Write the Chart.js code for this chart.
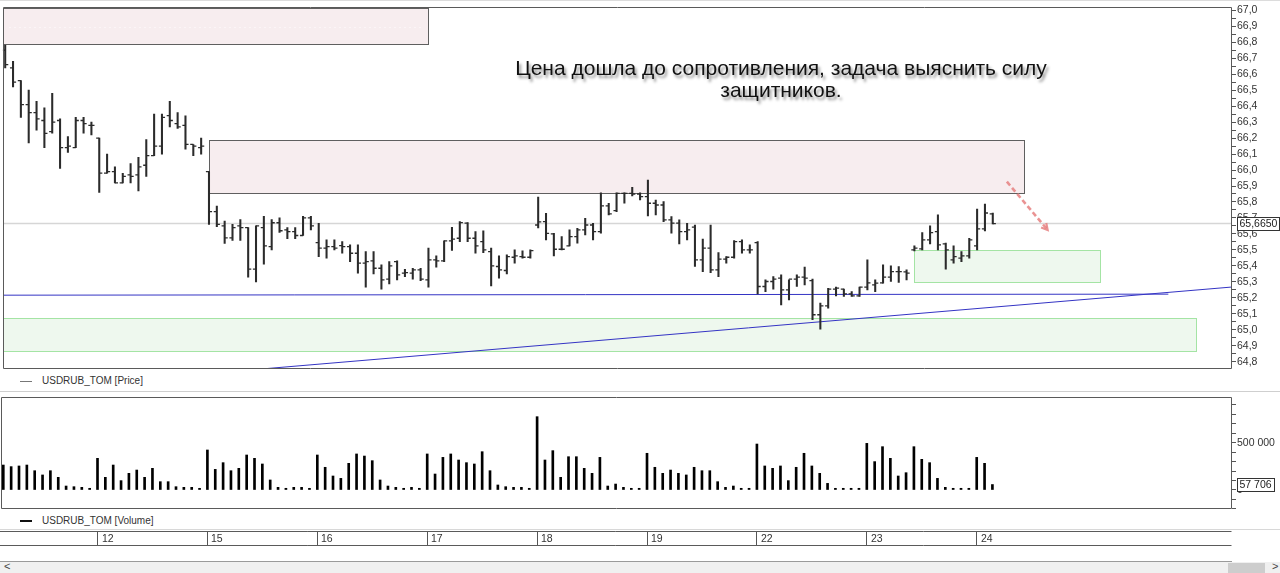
<!DOCTYPE html>
<html>
<head>
<meta charset="utf-8">
<script src="https://cdn.jsdelivr.net/npm/chart.js@4.4.0/dist/chart.umd.min.js"></script>
<style>
  html, body { margin: 0; padding: 0; background: #fff; width: 1280px; height: 573px; overflow: hidden;
    font-family: "Liberation Sans", Arial, sans-serif; }
  canvas { position: absolute; left: 0; }
  .hl { position: absolute; left: 0; height: 1px; }
  .legend { position: absolute; left: 42px; font-size: 10px; line-height: 12px; color: #333; white-space: nowrap; }
  .legend-mark { position: absolute; left: 20px; width: 12px; }
  .note { position: absolute; left: 431px; width: 700px; top: 57px; text-align: center;
    font-size: 21px; line-height: 22px; color: #111; text-shadow: 2px 3px 3px rgba(0,0,0,0.45); }
  .scroll { position: absolute; left: 0; top: 562px; width: 1280px; height: 11px; background: #f0f0f0; }
  .thumb { position: absolute; left: 1228px; top: 1px; width: 37px; height: 10px; background: #cdcdcd; }
  .arr { position: absolute; top: -2px; font-size: 11px; color: #444; }
</style>
</head>
<body>
<div class="hl" style="top:0;width:1280px;background:#dcdcdc"></div>
<div class="legend-mark" style="top:381px;height:1px;background:#777"></div>
<div class="legend" style="top:375px">USDRUB_TOM [Price]</div>
<div class="hl" style="top:391px;width:1280px;background:#cfcfcf"></div>
<div class="legend-mark" style="top:520px;height:2px;background:#111"></div>
<div class="legend" style="top:515px">USDRUB_TOM [Volume]</div>
<div class="hl" style="top:529px;width:1280px;background:#d8d8d8"></div>
<div class="hl" style="top:561px;width:1232px;background:#9a9a9a"></div>
<div class="scroll"><span class="arr" style="left:4px">&lt;</span><div class="thumb"></div><span class="arr" style="left:1272px">&gt;</span></div>
<canvas id="priceChart" width="1280" height="376" style="top:0"></canvas>
<canvas id="volumeChart" width="1280" height="128" style="top:389px"></canvas>
<canvas id="dateChart" width="1280" height="19" style="top:529px"></canvas>
<div class="note">Цена дошла до сопротивления, задача выяснить силу<br>защитников.</div>

<script>
// ---- hourly bars of USDRUB_TOM (index 0 = first visible hour) ----
const opens = [66.75,66.64,66.56,66.41,66.36,66.31,66.24,66.31,66.14,66.14,66.31,66.28,
  66.20,65.98,65.99,65.92,65.97,65.97,66.03,66.09,66.15,66.34,66.29,66.28,66.16,66.14,
  65.99,65.74,65.65,65.575,65.65,65.64,65.38,65.64,65.52,65.67,65.625,65.615,65.59,65.70,
  65.546,65.511,65.521,65.527,65.521,65.479,65.417,65.431,65.385,65.317,65.427,65.354,65.354,65.375,
  65.3125,65.4375,65.431,65.556,65.573,65.667,65.573,65.552,65.489,65.396,65.371,65.454,65.458,65.454,
  65.656,65.677,65.60,65.504,65.525,65.583,65.625,65.656,65.614,65.775,65.746,65.854,65.854,65.85,
  65.833,65.792,65.781,65.6875,65.667,65.614,65.642,65.4375,65.511,65.375,65.442,65.454,65.552,65.50,
  65.546,65.271,65.302,65.323,65.25,65.317,65.329,65.308,65.094,65.15,65.254,65.254,65.225,65.2125,
  65.267,65.281,65.294,65.329,65.364,65.3625,65.50,65.506,65.5625,65.614,65.5375,65.4375,65.448,65.4625,
  65.525,65.631,65.725];
const highs = [66.78,66.68,66.56,66.50,66.43,66.39,66.48,66.32,66.21,66.33,66.33,66.30,
  66.20,66.10,66.02,65.98,66.04,66.08,66.19,66.35,66.35,66.43,66.36,66.34,66.16,66.20,
  65.99,65.775,65.68,65.66,65.69,65.64,65.65,65.71,65.69,65.70,65.64,65.64,65.71,65.71,
  65.667,65.5625,65.5625,65.552,65.531,65.531,65.489,65.489,65.406,65.427,65.431,65.379,65.385,65.385,
  65.511,65.4625,65.556,65.642,65.677,65.671,65.614,65.62,65.511,65.4625,65.469,65.50,65.494,65.50,
  65.831,65.729,65.604,65.583,65.625,65.635,65.698,65.667,65.858,65.792,65.858,65.858,65.892,65.858,
  65.9375,65.8125,65.802,65.708,65.6875,65.667,65.656,65.567,65.656,65.483,65.458,65.558,65.5625,65.531,
  65.552,65.3125,65.333,65.344,65.3125,65.344,65.392,65.317,65.167,65.26,65.267,65.254,65.239,65.267,
  65.4375,65.3125,65.406,65.40,65.396,65.375,65.525,65.608,65.65,65.719,65.542,65.525,65.489,65.573,
  65.756,65.7875,65.731];
const lows = [66.64,66.52,66.33,66.17,66.25,66.14,66.23,66.01,66.11,66.14,66.23,66.22,
  65.86,65.98,65.92,65.92,65.92,65.87,65.96,66.09,66.10,66.27,66.26,66.13,66.09,66.10,
  65.66,65.645,65.54,65.56,65.56,65.33,65.30,65.41,65.50,65.61,65.57,65.57,65.59,65.625,
  65.458,65.448,65.50,65.479,65.427,65.354,65.267,65.35,65.254,65.2875,65.3125,65.333,65.317,65.308,
  65.267,65.392,65.427,65.496,65.552,65.552,65.479,65.483,65.275,65.323,65.35,65.417,65.448,65.448,
  65.6375,65.5625,65.4625,65.50,65.525,65.542,65.594,65.5625,65.604,65.719,65.739,65.792,65.8375,65.8125,
  65.7125,65.719,65.677,65.604,65.5375,65.5625,65.396,65.364,65.358,65.333,65.417,65.448,65.479,65.479,
  65.225,65.239,65.254,65.156,65.1875,65.271,65.281,65.0625,65.004,65.135,65.2125,65.208,65.208,65.208,
  65.25,65.239,65.292,65.302,65.296,65.3125,65.494,65.50,65.5375,65.50,65.379,65.417,65.427,65.448,
  65.50,65.619,65.6625];
const closes = [66.66,66.55,66.41,66.36,66.32,66.23,66.30,66.14,66.15,66.31,66.29,66.28,
  65.98,65.99,65.92,65.96,65.96,66.02,66.09,66.15,66.33,66.31,66.27,66.16,66.15,66.15,
  65.74,65.66,65.575,65.64,65.64,65.38,65.65,65.525,65.67,65.62,65.615,65.59,65.70,65.65,
  65.511,65.521,65.511,65.521,65.479,65.417,65.427,65.385,65.3125,65.40,65.344,65.358,65.375,65.317,
  65.4375,65.431,65.556,65.567,65.671,65.573,65.525,65.50,65.40,65.375,65.458,65.4625,65.454,65.496,
  65.675,65.604,65.504,65.504,65.583,65.625,65.656,65.614,65.775,65.725,65.854,65.854,65.85,65.833,
  65.792,65.781,65.6875,65.667,65.614,65.625,65.4375,65.511,65.375,65.442,65.454,65.552,65.50,65.50,
  65.271,65.302,65.317,65.25,65.317,65.329,65.323,65.094,65.15,65.254,65.261,65.225,65.2125,65.267,
  65.294,65.292,65.329,65.364,65.364,65.354,65.511,65.5625,65.608,65.531,65.50,65.458,65.4625,65.5625,
  65.631,65.731,65.665];
const volumes = [264000,247000,254000,264000,204000,159000,204000,134000,42000,35000,28000,18000,
  335000,134000,264000,99000,176000,211000,134000,229000,88000,88000,35000,28000,28000,18000,
  423000,218000,289000,204000,229000,370000,335000,275000,106000,28000,18000,28000,28000,18000,
  370000,240000,148000,123000,282000,381000,359000,310000,106000,42000,28000,18000,28000,18000,
  381000,169000,345000,381000,317000,289000,275000,405000,204000,53000,35000,28000,28000,18000,
  775000,317000,416000,134000,352000,352000,229000,176000,345000,42000,63000,28000,18000,18000,
  388000,240000,176000,211000,176000,159000,240000,204000,204000,88000,28000,42000,18000,18000,
  486000,254000,229000,254000,99000,240000,388000,254000,176000,70000,18000,18000,18000,18000,
  493000,300000,458000,335000,148000,183000,458000,324000,289000,123000,28000,18000,18000,18000,
  345000,282000,57706];

// ---- session starts on the time strip ----
const dayLabels = ['12', '15', '16', '17', '18', '19', '22', '23', '24'];
const dayStartBar = [12, 26, 40, 54, 68, 82, 96, 110, 124];

// ---- axis ticks ----
const priceTickLabels = ['64,8','64,9','65,0','65,1','65,2','65,3','65,4','65,5','65,6','65,7','65,8',
  '65,9','66,0','66,1','66,2','66,3','66,4','66,5','66,6','66,7','66,8','66,9','67,0'];
const volumeTickStep = 100000;
const volumeLabelValues = [0, 500000];
const volumeLabelTexts = ['0', '500 000'];

// ---- drawn analysis: zones, lines, arrow ----
const X_MIN = -0.293, X_MAX = 156.52;
const resistanceZones = [
  { from: X_MIN, to: 54, low: 66.7875, high: 67.0125, midline: true },
  { from: 26, to: 130, low: 65.855, high: 66.19, midline: false }
];
const supportZones = [
  { from: 116, to: 139.7, low: 65.30, high: 65.50 },
  { from: X_MIN, to: 151.9, low: 64.866, high: 65.072 }
];
const levelLine = [{ x: X_MIN, y: 65.2165 }, { x: 148.4, y: 65.223 }];
const trendLine = [{ x: 33.1, y: 64.756 }, { x: 156.6, y: 65.268 }];
const arrowPath = [{ x: 127.8, y: 65.927 }, { x: 133.0, y: 65.625 }];

Chart.defaults.font.family = '"Liberation Sans", Arial, sans-serif';
Chart.defaults.font.size = 10.5;
Chart.defaults.color = '#333';
Chart.defaults.animation = false;
Chart.defaults.plugins.legend.display = false;
Chart.defaults.plugins.tooltip.enabled = false;

const barIndex = opens.map((_, i) => i);
const TICK_REACH = 0.19;          // open/close tick offset, in bar units
const lastClose = closes[closes.length - 1];
const lastVolume = volumes[volumes.length - 1];
const priceTickValues = priceTickLabels.map(s => parseFloat(s.replace(',', '.')));
const priceAllTicks = [];
priceTickValues.forEach((v, k) => {
  priceAllTicks.push({ value: v, label: priceTickLabels[k] });
  if (k < priceTickValues.length - 1) priceAllTicks.push({ value: (v + priceTickValues[k + 1]) / 2, label: '' });
});
const volumeAllTicks = [];
for (let v = -2 * volumeTickStep; v <= 9 * volumeTickStep; v += volumeTickStep) {
  const k = volumeLabelValues.indexOf(v);
  volumeAllTicks.push({ value: v, label: k >= 0 ? volumeLabelTexts[k] : '' });
}

// panel frame around the plotting area
const framePlugin = {
  id: 'frame',
  afterDraw(chart, args, opts) {
    const { ctx, chartArea: a } = chart;
    ctx.save();
    ctx.strokeStyle = opts.color || '#5a5a5a';
    ctx.lineWidth = 1;
    const l = Math.round(a.left) + 0.5, r = Math.round(a.right) - 0.5;
    const t = Math.round(a.top) + 0.5, b = Math.round(a.bottom) - 0.5;
    ctx.beginPath();
    if (opts.sides === 'tb') {
      ctx.moveTo(0, t); ctx.lineTo(r, t); ctx.moveTo(0, b); ctx.lineTo(r, b);
    } else {
      ctx.rect(l, t, r - l, b - t);
    }
    ctx.stroke();
    ctx.restore();
  }
};

// resistance / support rectangles behind the bars, arrow on top
const zonePlugin = {
  id: 'zones',
  beforeDatasetsDraw(chart) {
    const { ctx, chartArea: a, scales: { x, y } } = chart;
    ctx.save();
    ctx.beginPath();
    ctx.rect(a.left, a.top, a.right - a.left, a.bottom - a.top);
    ctx.clip();
    const box = (z, fill, stroke) => {
      const x0 = Math.round(x.getPixelForValue(z.from)) + 0.5;
      const x1 = Math.round(x.getPixelForValue(z.to)) + 0.5;
      const y0 = Math.round(y.getPixelForValue(z.high)) + 0.5;
      const y1 = Math.round(y.getPixelForValue(z.low)) + 0.5;
      ctx.fillStyle = fill;
      ctx.fillRect(x0, y0, x1 - x0, y1 - y0);
      if (z.midline) {
        ctx.save();
        ctx.strokeStyle = 'rgba(255,255,255,0.95)';
        ctx.setLineDash([1, 4]);
        ctx.beginPath();
        const ym = Math.round((y0 + y1) / 2) + 0.5;
        ctx.moveTo(x0 + 6, ym); ctx.lineTo(x1 - 4, ym);
        ctx.stroke();
        ctx.restore();
      }
      ctx.strokeStyle = stroke;
      ctx.lineWidth = 1;
      ctx.strokeRect(x0, y0, x1 - x0, y1 - y0);
    };
    supportZones.forEach(z => box(z, '#eef8ee', '#a4e4a4'));
    resistanceZones.forEach(z => box(z, '#f7edef', '#5f5f5f'));
    ctx.restore();
  },
  afterDatasetsDraw(chart) {
    const { ctx, scales: { x, y } } = chart;
    const p0 = { x: x.getPixelForValue(arrowPath[0].x), y: y.getPixelForValue(arrowPath[0].y) };
    const p1 = { x: x.getPixelForValue(arrowPath[1].x), y: y.getPixelForValue(arrowPath[1].y) };
    const ang = Math.atan2(p1.y - p0.y, p1.x - p0.x);
    ctx.save();
    ctx.strokeStyle = 'rgba(230,128,128,0.85)';
    ctx.lineWidth = 2.6;
    ctx.setLineDash([5, 3]);
    ctx.beginPath(); ctx.moveTo(p0.x, p0.y); ctx.lineTo(p1.x, p1.y); ctx.stroke();
    ctx.setLineDash([]);
    ctx.lineWidth = 2.2;
    ctx.beginPath();
    ctx.moveTo(p1.x - 7 * Math.cos(ang - 0.5), p1.y - 7 * Math.sin(ang - 0.5));
    ctx.lineTo(p1.x, p1.y);
    ctx.lineTo(p1.x - 7 * Math.cos(ang + 0.5), p1.y - 7 * Math.sin(ang + 0.5));
    ctx.stroke();
    ctx.restore();
  }
};

// boxed last-value tag on the right axis
const lastValuePlugin = {
  id: 'lastValue',
  afterDraw(chart, args, opts) {
    const { ctx, chartArea: a, scales: { y } } = chart;
    const py = Math.round(y.getPixelForValue(opts.value));
    ctx.save();
    ctx.font = '10.5px "Liberation Sans", Arial, sans-serif';
    const w = Math.ceil(ctx.measureText(opts.text).width) + 4;
    const x0 = Math.round(a.right) + 5.5, y0 = py - 6.5;
    ctx.fillStyle = '#fff';
    ctx.fillRect(x0, y0, w, 13);
    ctx.strokeStyle = '#333';
    ctx.lineWidth = 1;
    ctx.strokeRect(x0, y0, w, 13);
    ctx.fillStyle = '#222';
    ctx.textBaseline = 'middle';
    ctx.fillText(opts.text, x0 + 2, py + 0.5);
    ctx.restore();
  }
};

// session labels written just right of each session separator
const dayLabelPlugin = {
  id: 'dayLabels',
  afterDraw(chart) {
    const { ctx, chartArea: a, scales: { x } } = chart;
    ctx.save();
    ctx.font = '10.5px "Liberation Sans", Arial, sans-serif';
    ctx.fillStyle = '#333';
    ctx.textBaseline = 'middle';
    dayStartBar.forEach((b, k) => {
      ctx.fillText(dayLabels[k], Math.round(x.getPixelForValue(b)) + 4, (a.top + a.bottom) / 2 + 0.5);
    });
    ctx.restore();
  }
};

const makeX = () => ({ type: 'linear', min: X_MIN, max: X_MAX, display: false, offset: false, grid: { offset: false } });

new Chart(document.getElementById('priceChart'), {
  type: 'bar',
  data: {
    datasets: [
      { type: 'bar', data: barIndex.map(i => ({ x: i, y: [lows[i], highs[i]] })),
        backgroundColor: '#2b2b2b', borderWidth: 0, barThickness: 1.4, grouped: false, order: 1 },
      { type: 'scatter', data: barIndex.map(i => ({ x: i - TICK_REACH, y: opens[i] })),
        pointStyle: 'line', pointRadius: 1.6, pointBorderWidth: 1.3, pointBorderColor: '#2b2b2b',
        pointHoverRadius: 1.6, order: 0 },
      { type: 'scatter', data: barIndex.map(i => ({ x: i + TICK_REACH, y: closes[i] })),
        pointStyle: 'line', pointRadius: 1.6, pointBorderWidth: 1.3, pointBorderColor: '#2b2b2b',
        pointHoverRadius: 1.6, order: 0 },
      { type: 'line', data: [{ x: X_MIN, y: lastClose }, { x: X_MAX, y: lastClose }],
        borderColor: '#d6d6d6', borderWidth: 1.5, pointRadius: 0, fill: false, order: 6 },
      { type: 'line', data: levelLine, borderColor: '#3434c4', borderWidth: 1, pointRadius: 0, fill: false, order: 5 },
      { type: 'line', data: trendLine, borderColor: '#3434c4', borderWidth: 1, pointRadius: 0, fill: false, order: 5 }
    ]
  },
  options: {
    responsive: false,
    devicePixelRatio: 1,
    layout: { padding: { left: 1, top: 7, right: 0, bottom: 7 } },
    scales: {
      x: makeX(),
      y: {
        position: 'right', min: 64.75625, max: 67.01875,
        afterBuildTicks: s => { s.ticks = priceAllTicks.map(t => ({ value: t.value })); },
        afterFit: s => { s.width = 48; },
        ticks: { padding: 1, autoSkip: false, color: '#333',
          callback: (v, k) => priceAllTicks[k] ? priceAllTicks[k].label : '' },
        grid: { drawOnChartArea: false, tickLength: 4, color: '#555' },
        border: { display: false }
      }
    },
    plugins: { frame: { color: '#5a5a5a' }, lastValue: { value: lastClose, text: lastClose.toFixed(4).replace('.', ',') } }
  },
  plugins: [zonePlugin, framePlugin, lastValuePlugin]
});

new Chart(document.getElementById('volumeChart'), {
  type: 'bar',
  data: {
    datasets: [
      { data: barIndex.map(i => ({ x: i, y: volumes[i] })), backgroundColor: '#000',
        borderWidth: 0, barThickness: 2, grouped: false }
    ]
  },
  options: {
    responsive: false,
    devicePixelRatio: 1,
    layout: { padding: { left: 1, top: 8, right: 0, bottom: 8 } },
    scales: {
      x: makeX(),
      y: {
        position: 'right', min: -200850, max: 983100,
        afterBuildTicks: s => { s.ticks = volumeAllTicks.map(t => ({ value: t.value })); },
        afterFit: s => { s.width = 48; },
        ticks: { padding: 1, autoSkip: false, color: '#333',
          callback: (v, k) => volumeAllTicks[k] ? volumeAllTicks[k].label : '' },
        grid: { drawOnChartArea: false, tickLength: 4, color: '#555' },
        border: { display: false }
      }
    },
    plugins: { frame: { color: '#5a5a5a' },
      lastValue: { value: lastVolume, text: lastVolume.toLocaleString('ru-RU').replace(/\s/g, ' ') } }
  },
  plugins: [framePlugin, lastValuePlugin]
});

new Chart(document.getElementById('dateChart'), {
  type: 'scatter',
  data: { datasets: [{ data: [] }] },
  options: {
    responsive: false,
    devicePixelRatio: 1,
    layout: { padding: { left: 1, top: 2, right: 48, bottom: 2 } },
    scales: {
      x: {
        type: 'linear', min: X_MIN, max: X_MAX, position: 'bottom',
        afterBuildTicks: s => { s.ticks = dayStartBar.map(v => ({ value: v })); },
        afterFit: s => { s.height = 0; },
        ticks: { display: false },
        grid: { drawOnChartArea: true, drawTicks: false, color: '#555', lineWidth: 1 },
        border: { display: false }
      },
      y: { display: false, min: 0, max: 1 }
    },
    plugins: { frame: { color: '#5a5a5a', sides: 'tb' } }
  },
  plugins: [framePlugin, dayLabelPlugin]
});
</script>
</body>
</html>
